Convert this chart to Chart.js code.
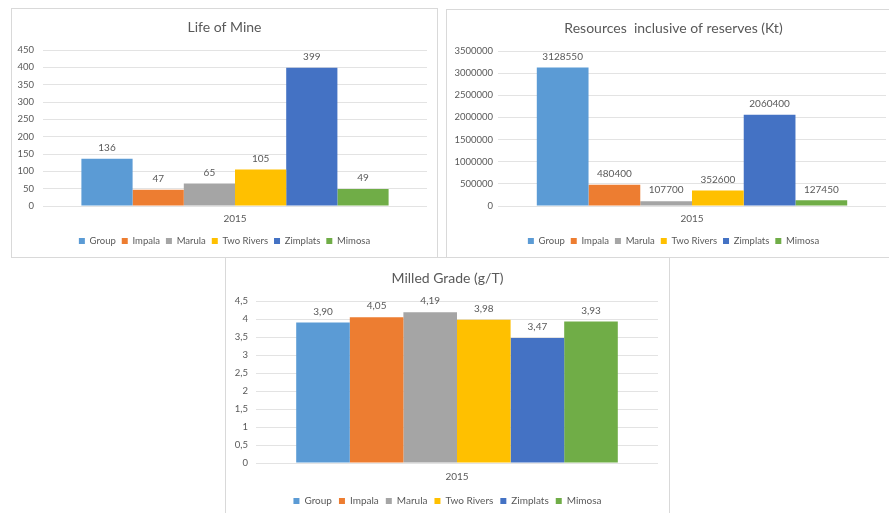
<!DOCTYPE html>
<html>
<head>
<meta charset="utf-8">
<script src="https://cdn.jsdelivr.net/npm/chart.js@4.4.1/dist/chart.umd.min.js"></script>
<style>
    html, body { margin: 0; padding: 0; background: #fff; overflow: hidden; width: 889px; height: 513px; }
    .box { position: absolute; border: 1px solid #d9d9d9; box-sizing: border-box; background: #fff; }
    .box canvas { display: block; }
</style>
</head>
<body>
<div class="box" style="left:225px; top:257px; width:445px; height:262px;"><canvas id="gradeChart" width="443" height="260"></canvas></div>
<div class="box" style="left:11px; top:8px; width:427px; height:250px;"><canvas id="lifeChart" width="425" height="248"></canvas></div>
<div class="box" style="left:446px; top:9px; width:455px; height:249px;"><canvas id="resourceChart" width="453" height="247"></canvas></div>
<script>
const categories = ['2015'];
const seriesNames = ['Group', 'Impala', 'Marula', 'Two Rivers', 'Zimplats', 'Mimosa'];
const seriesColors = ['#5B9BD5', '#ED7D31', '#A5A5A5', '#FFC000', '#4472C4', '#70AD47'];

const lifeOfMine = [136, 47, 65, 105, 399, 49];
const resources = [3128550, 480400, 107700, 352600, 2060400, 127450];
const milledGrade = [3.90, 4.05, 4.19, 3.98, 3.47, 3.93];

const TEXT_COLOR = '#595959';
const GRID_COLOR = '#e3e3e3';

Chart.defaults.font.family = 'Lato, "Open Sans", sans-serif';
Chart.defaults.color = TEXT_COLOR;

// draws the value above each bar
const valueLabels = {
    id: 'valueLabels',
    afterLayout(chart) {
        // let the y tick labels spill into the side padding instead of being clipped
        chart.scales.y.left = 0;
    },
    afterDatasetsDraw(chart, args, opts) {
        const ctx = chart.ctx;
        ctx.save();
        ctx.font = '10px Lato, "Open Sans", sans-serif';
        ctx.fillStyle = TEXT_COLOR;
        ctx.textAlign = 'center';
        ctx.textBaseline = 'middle';
        chart.data.datasets.forEach((ds, i) => {
            const meta = chart.getDatasetMeta(i);
            meta.data.forEach((bar, j) => {
                ctx.fillText(opts.format(ds.data[j]), bar.x, bar.y - 11);
            });
        });
        ctx.restore();
    }
};

function makeChart(id, cfg) {
    const datasets = seriesNames.map((name, i) => ({
        label: name,
        data: [cfg.values[i]],
        backgroundColor: seriesColors[i],
        borderWidth: 0,
        categoryPercentage: 0.8,
        barPercentage: 1.0
    }));

    return new Chart(document.getElementById(id), {
        type: 'bar',
        data: { labels: categories, datasets: datasets },
        plugins: [valueLabels],
        options: {
            responsive: false,
            animation: false,
            layout: {
                padding: { left: cfg.padSide, right: cfg.padSide, top: 0, bottom: cfg.padBottom }
            },
            plugins: {
                title: {
                    display: true,
                    text: cfg.title,
                    color: TEXT_COLOR,
                    font: { size: 14, weight: 'normal' },
                    padding: { top: cfg.titleTop, bottom: cfg.titleBottom }
                },
                legend: {
                    position: 'bottom',
                    labels: {
                        boxWidth: 6,
                        boxHeight: 6,
                        padding: cfg.legendPad,
                        color: TEXT_COLOR,
                        font: { size: cfg.legendSize }
                    }
                },
                tooltip: { enabled: false },
                valueLabels: { format: cfg.labelFormat }
            },
            scales: {
                x: {
                    grid: { display: false, drawTicks: false },
                    border: { display: false },
                    ticks: { padding: cfg.xPad, font: { size: 10 }, color: TEXT_COLOR },
                    afterFit: function(scale) {
                        scale.height = cfg.xHeight;
                    }
                },
                y: {
                    min: 0,
                    max: cfg.max,
                    grid: { color: GRID_COLOR, drawTicks: false },
                    border: { display: false },
                    ticks: {
                        stepSize: cfg.step,
                        padding: cfg.yPad,
                        font: { size: 9.5 },
                        color: TEXT_COLOR,
                        callback: cfg.tickFormat
                    },
                    afterFit: function(scale) {
                        scale.width = cfg.yWidth;
                    }
                }
            }
        }
    });
}

makeChart('lifeChart', {
    title: 'Life of Mine',
    values: lifeOfMine,
    max: 450, step: 50,
    tickFormat: v => String(v),
    labelFormat: v => String(v),
    yWidth: 21, yPad: 9, padSide: 10, padBottom: 1.25,
    titleTop: 10, titleBottom: 14.2,
    xPad: 7, xHeight: 24.25, legendPad: 6, legendSize: 9.5
});

makeChart('resourceChart', {
    title: 'Resources  inclusive of reserves (Kt)',
    values: resources,
    max: 3500000, step: 500000,
    tickFormat: v => String(v),
    labelFormat: v => String(v),
    yWidth: 37, yPad: 5, padSide: 14, padBottom: 1.25,
    titleTop: 10, titleBottom: 14.2,
    xPad: 7, xHeight: 24.25, legendPad: 6, legendSize: 9.5
});

makeChart('gradeChart', {
    title: 'Milled Grade (g/T)',
    values: milledGrade,
    max: 4.5, step: 0.5,
    tickFormat: v => String(v).replace('.', ','),
    labelFormat: v => v.toFixed(2).replace('.', ','),
    yWidth: 19, yPad: 8, padSide: 11, padBottom: 2,
    titleTop: 11.6, titleBottom: 14.6,
    xPad: 8, xHeight: 26, legendPad: 7, legendSize: 10
});
</script>
</body>
</html>
